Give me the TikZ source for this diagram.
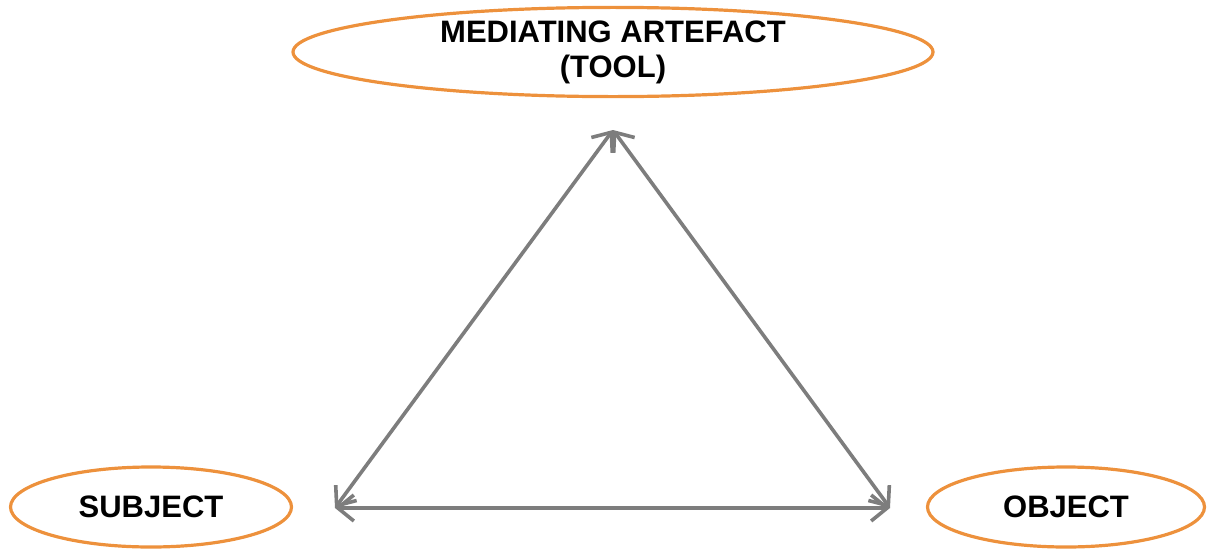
\documentclass[tikz,border=0pt]{standalone}
\usepackage{fontspec}
\setmainfont{Liberation Sans}
\usetikzlibrary{shapes.geometric,arrows.meta}
\definecolor{rimorange}{RGB}{237,145,60}
\definecolor{armgray}{RGB}{125,125,125}
\tikzset{
  role/.style={ellipse, draw=rimorange, line width=3.2pt, inner sep=0pt,
    font=\fontsize{31}{35}\selectfont\bfseries, align=center},
  arm/.style={draw=armgray, line width=3.6pt,
    {Straight Barb[length=16pt,width=26pt,line width=3.6pt]}-{Straight Barb[length=16pt,width=26pt,line width=3.6pt]}}
}
\begin{document}
\begin{tikzpicture}[x=1pt, y=-1pt]
  \useasboundingbox (0,0) rectangle (1213,549);
  \node[role, minimum width=640pt, minimum height=87pt] (tool) at (613,52) {MEDIATING ARTEFACT\\(TOOL)};
  \node[role, minimum width=281pt, minimum height=80pt] (subject) at (151,507) {SUBJECT};
  \node[role, minimum width=277pt, minimum height=80pt] (object) at (1066,507) {OBJECT};
  \coordinate (apex) at (613,130);
  \coordinate (left) at (335,508);
  \coordinate (right) at (890,508);
  \draw[arm] (apex) -- (left);
  \draw[arm] (apex) -- (right);
  \draw[arm] (left) -- (right);
\end{tikzpicture}
\end{document}
